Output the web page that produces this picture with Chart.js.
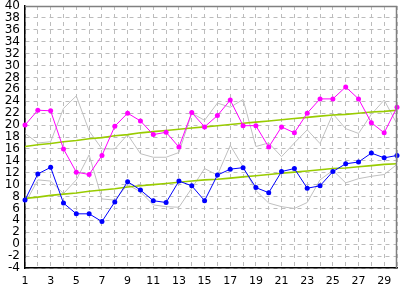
<!DOCTYPE html>
<html>
<head>
<meta charset="utf-8">
<script src="https://cdn.jsdelivr.net/npm/chart.js@4"></script>
<style>
html,body{margin:0;padding:0;background:#fff;}
#wrap{width:401px;height:288px;}
</style>
</head>
<body>
<div id="wrap"><canvas id="c" width="401" height="288"></canvas></div>
<script>
const days = [1,2,3,4,5,6,7,8,9,10,11,12,13,14,15,16,17,18,19,20,21,22,23,24,25,26,27,28,29,30];
const highs = [20.0,22.5,22.4,16.0,12.1,11.7,14.9,19.8,22.0,20.7,18.4,18.8,16.3,22.1,19.7,21.6,24.2,19.9,19.9,16.3,19.7,18.7,22.0,24.4,24.4,26.4,24.4,20.4,18.7,23.0];
const lows = [7.4,11.8,12.9,6.9,5.1,5.1,3.8,7.1,10.5,9.1,7.3,7.0,10.6,9.8,7.3,11.6,12.6,12.85,9.5,8.65,12.2,12.7,9.4,9.8,12.2,13.5,13.8,15.3,14.5,14.9];
const prevHighs = [18.6,17.0,17.2,22.8,24.9,19.0,16.0,16.0,18.4,15.2,14.6,14.6,15.4,22.0,20.8,23.7,23.0,24.3,16.4,17.0,14.7,17.0,19.2,16.9,21.9,19.4,18.6,21.8,24.2,20.2];
const prevLows = [6.8,10.8,10.6,8.5,10.8,15.0,7.6,7.4,10.0,8.8,6.6,6.3,6.2,9.4,12.7,11.6,16.6,13.0,9.0,6.9,6.3,6.0,7.0,10.8,12.4,10.3,11.0,11.4,11.7,13.4];
const normalHighs = [16.4,16.7,16.9,17.2,17.4,17.7,17.9,18.2,18.4,18.7,18.9,19.1,19.3,19.5,19.7,19.9,20.1,20.3,20.5,20.7,20.9,21.1,21.3,21.5,21.7,21.8,22.0,22.2,22.3,22.5];
const normalLows = [7.7,7.9,8.2,8.4,8.6,8.9,9.1,9.3,9.6,9.8,10.0,10.2,10.4,10.6,10.8,10.9,11.1,11.3,11.5,11.7,11.9,12.1,12.3,12.5,12.7,12.8,13.0,13.2,13.4,13.5];
const yTicks = {min:-4, max:40, step:2};

const pts = arr => arr.map((v,i)=>({x:days[i], y:v}));

const frame = {
  id:'frame',
  afterDatasetsDraw(chart){
    const {ctx, chartArea:a} = chart;
    ctx.save();
    ctx.strokeStyle = '#808080';
    ctx.lineWidth = 1.5;
    ctx.beginPath();
    ctx.moveTo(a.left, a.top+0.5);
    ctx.lineTo(a.right-0.5, a.top+0.5);
    ctx.lineTo(a.right-0.5, a.bottom);
    ctx.stroke();
    ctx.restore();
  }
};

const mainStyle = (color) => ({
  borderColor: color, backgroundColor: color, borderWidth: 1,
  pointRadius: 2.5, pointBorderWidth: 0, pointBackgroundColor: color,
  tension: 0, clip: false, fill: false
});
const plainStyle = (color, w) => ({
  borderColor: color, borderWidth: w, pointRadius: 0, tension: 0, fill: false
});

new Chart(document.getElementById('c'), {
  type: 'line',
  data: {
    datasets: [
      Object.assign({label:'high', data: pts(highs)}, mainStyle('#ff00ff')),
      Object.assign({label:'low', data: pts(lows)}, mainStyle('#0000ff')),
      Object.assign({label:'normal high', data: pts(normalHighs)}, plainStyle('#99cc00', 1.6)),
      Object.assign({label:'normal low', data: pts(normalLows)}, plainStyle('#99cc00', 1.6)),
      Object.assign({label:'prev high', data: pts(prevHighs)}, plainStyle('#c0c0c0', 1)),
      Object.assign({label:'prev low', data: pts(prevLows)}, plainStyle('#c0c0c0', 1))
    ]
  },
  options: {
    responsive: false,
    animation: false,
    events: [],
    layout: {padding: {top: 6, right: 4, left: 0, bottom: 0}},
    plugins: {legend: {display: false}, tooltip: {enabled: false}},
    scales: {
      x: {
        type: 'linear', min: days[0], max: days[days.length-1],
        afterFit(s){ s.height = 20; s.paddingLeft = 0; s.paddingRight = 0; },
        ticks: {
          stepSize: 1, autoSkip: false, maxRotation: 0, padding: 7,
          color: '#000', font: {family: 'DejaVu Sans', size: 11},
          callback: v => (v % 2 === 1 ? String(v) : '')
        },
        grid: {color: '#bcbcbc', lineWidth: 1, drawTicks: false, tickLength: 0},
        border: {display: true, color: '#000', width: 1.5, dash: [4,4]}
      },
      y: {
        min: yTicks.min, max: yTicks.max,
        afterFit(s){ s.width = 25; s.paddingTop = 0; s.paddingBottom = 0; },
        ticks: {
          stepSize: yTicks.step, autoSkip: false, padding: 5,
          color: '#000', font: {family: 'DejaVu Sans', size: 12},
          callback: v => String(v)
        },
        grid: {color: '#bcbcbc', lineWidth: 1, drawTicks: false, tickLength: 0},
        border: {display: true, color: '#000', width: 1.5, dash: [4,4]}
      }
    }
  },
  plugins: [frame]
});
</script>
</body>
</html>
